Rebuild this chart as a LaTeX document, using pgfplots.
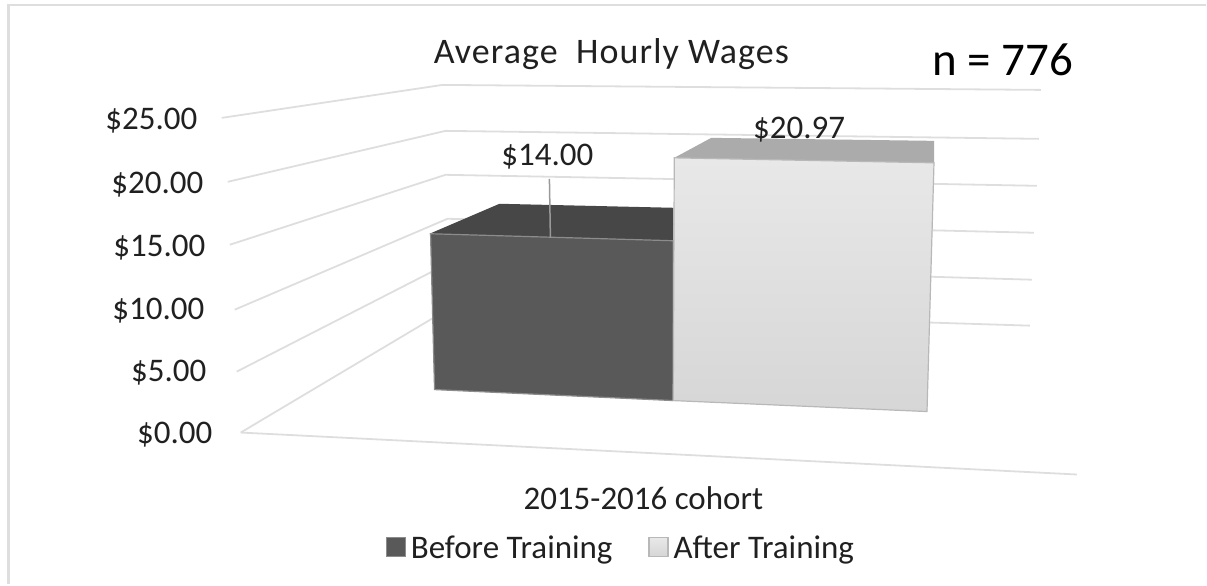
\documentclass[border=0pt]{standalone}
\usepackage{pgfplots}
\pgfplotsset{compat=1.18}
\usepackage{fontspec}
\setmainfont{Carlito}
\definecolor{gridc}{HTML}{DEDEDE}
\definecolor{txt}{HTML}{202020}
\newcommand{\lab}{\fontsize{33}{38}\selectfont}
\begin{document}
\begin{tikzpicture}
\begin{axis}[
  scale only axis, width=1207pt, height=585pt,
  xmin=0, xmax=1207, ymin=0, ymax=585, y dir=reverse,
  axis lines=none, clip=false,
  legend style={at={(axis cs:621.5,548)}, anchor=center, draw=none, fill=none, legend columns=2,
    font=\lab, text=txt, /tikz/every even column/.style={column sep=34pt}},
  legend cell align=left,
]
\path (axis cs:0,0) rectangle (axis cs:1207,585);
% frame
\addplot[forget plot, draw=gridc, line width=2.6pt] coordinates {(8.5,585) (8.5,5) (1207,5)};
% gridlines
\addplot[forget plot, draw=gridc, line width=1.8pt] coordinates {(222,118) (443,85) (1042,90)};
\addplot[forget plot, draw=gridc, line width=1.8pt] coordinates {(228,182) (446,131) (1040,139)};
\addplot[forget plot, draw=gridc, line width=1.8pt] coordinates {(230,245) (446,175) (1038,186)};
\addplot[forget plot, draw=gridc, line width=1.8pt] coordinates {(235,310) (448,219) (1035,233)};
\addplot[forget plot, draw=gridc, line width=1.8pt] coordinates {(237,372) (450,263) (1033,280)};
\addplot[forget plot, draw=gridc, line width=1.8pt] coordinates {(241,433) (451,308) (1031,326)};
\addplot[forget plot, draw=gridc, line width=1.8pt] coordinates {(241,433) (1078,475)};
% bar 1
\addplot[forget plot, fill=black!72, draw=none] coordinates {(430,234) (500,204) (674,208) (674,241)} --cycle;
\addplot[fill=black!65, draw=black!45, line width=1.2pt,
  legend image code/.code={\draw[fill=black!65, draw=black!45, line width=1.2pt] (0pt,-9pt) rectangle (19pt,10pt);}]
  coordinates {(431,234) (674,241) (674,401) (435,390)} --cycle;
\addlegendentry{\hspace*{3pt}Before Training}
\addplot[forget plot, draw=black!40, line width=1.5pt] coordinates {(550,179) (551,238)};
% bar 2
\addplot[forget plot, fill=black!33, draw=none] coordinates {(675,158) (712,138) (935,141) (935,163)} --cycle;
\addplot[top color=black!9, bottom color=black!16, draw=black!28, line width=1.2pt,
  legend image code/.code={\draw[fill=black!13, draw=black!28, line width=1.2pt] (0pt,-9pt) rectangle (19pt,10pt);}]
  coordinates {(675,158) (935,163) (928,412) (674,401)} --cycle;
\addlegendentry{\hspace*{3pt}After Training}
% texts
\node[text=txt, font=\fontsize{36}{41}\selectfont\addfontfeatures{LetterSpace=3}] at (axis cs:612,54) {Average\ \ Hourly Wages};
\node[text=black, font=\fontsize{47}{54}\selectfont] at (axis cs:1004,60) {n = 776};
\node[text=txt, font=\lab] at (axis cs:548,157) {\$14.00};
\node[text=txt, font=\lab] at (axis cs:800,130) {\$20.97};
\node[text=txt, font=\lab, anchor=east] at (axis cs:201,121) {\$25.00};
\node[text=txt, font=\lab, anchor=east] at (axis cs:207,185) {\$20.00};
\node[text=txt, font=\lab, anchor=east] at (axis cs:209,248) {\$15.00};
\node[text=txt, font=\lab, anchor=east] at (axis cs:208,311) {\$10.00};
\node[text=txt, font=\lab, anchor=east] at (axis cs:210,373) {\$5.00};
\node[text=txt, font=\lab, anchor=east] at (axis cs:216,435) {\$0.00};
\node[text=txt, font=\lab] at (axis cs:644,499) {2015-2016 cohort};
\end{axis}
\end{tikzpicture}
\end{document}
